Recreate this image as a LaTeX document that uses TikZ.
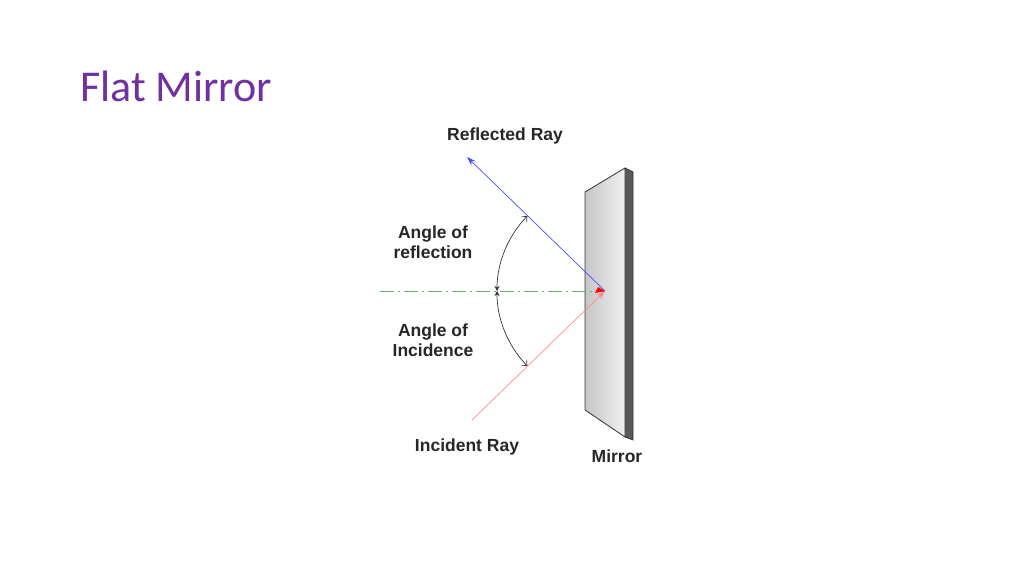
\documentclass[tikz,border=0pt]{standalone}
\usepackage{fontspec}
\setmainfont{Liberation Sans}
\newfontfamily\titlefont{Carlito}
\usetikzlibrary{arrows.meta}
\definecolor{ttl}{HTML}{7030A0}
\begin{document}
\begin{tikzpicture}[x=1pt,y=1pt,
  lbl/.style={font=\bfseries\fontsize{17.5}{20}\selectfont,align=center,text=black!85},
  ray/.style={line width=0.7pt}]
\useasboundingbox (0,0) rectangle (1024,576);
\node[anchor=base west,text=ttl,font=\titlefont\fontsize{44}{48}\selectfont,inner sep=0] (title) at (80,474) {Flat Mirror};
% mirror
\fill[gray!70!black] (625,408) -- (633,404) -- (633,136) -- (625,139) -- cycle;
\shade[left color=gray!45,right color=gray!12,draw=black!80,line width=0.8pt] (585,384) -- (625,408) -- (625,139) -- (585,166) -- cycle;
\draw[black!80,line width=0.8pt] (625,408) -- (633,404) -- (633,136) -- (625,139);
\coordinate (P) at (605,285);
\coordinate (R) at (467,419);
\coordinate (I) at (472,156);
\coordinate (N) at (380,285);
\draw[green!50!black!60,dash pattern=on 14pt off 4pt on 2pt off 4pt,line width=0.6pt] (N) -- (P);
\draw[ray,blue!70,-{Stealth[length=9pt,width=6pt]}] (P) -- (R);
\draw[ray,red!45,-{Stealth[length=9pt,width=6pt]}] (I) -- (P);
\fill[red] (P) -- ++(-10,-2) -- ++(3,6) -- cycle;
\draw[black!80,line width=0.7pt,{Stealth[length=5pt,width=5pt]}-{Straight Barb[length=4pt,width=7pt]}] ([shift={(180:108)}]P) arc[start angle=180,end angle=136,radius=108];
\draw[black!80,line width=0.7pt,{Stealth[length=5pt,width=5pt]}-{Straight Barb[length=4pt,width=7pt]}] ([shift={(180:108)}]P) arc[start angle=180,end angle=224,radius=108];
\node[lbl] (rr) at (505,440) {Reflected Ray};
\node[lbl] (ar) at (433,334) {Angle of\\reflection};
\node[lbl] (ai) at (433,236) {Angle of\\Incidence};
\node[lbl] (ir) at (467,129) {Incident Ray};
\node[lbl] (mr) at (617,120) {Mirror};
\end{tikzpicture}
\end{document}
